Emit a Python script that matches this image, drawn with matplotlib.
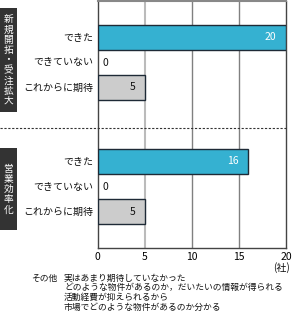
import matplotlib.pyplot as plt
from matplotlib.patches import Rectangle

plt.rcParams['font.family'] = ['Noto Sans CJK JP', 'DejaVu Sans']

groups = ['新規開拓・受注拡大', '営業効率化']
categories = ['できた', 'できていない', 'これからに期待']
values_g1 = [20, 0, 5]
values_g2 = [16, 0, 5]
x_ticks = [0, 5, 10, 15, 20]
unit = '(社)'
other_label = 'その他'
other_lines = ['実はあまり期待していなかった',
               'どのような物件があるのか，だいたいの情報が得られる',
               '活動経費が抑えられるから',
               '市場でどのような物件があるのか分かる']

bar_colors = ['#35b1d1', '#35b1d1', '#cccccc']

W, H = 296, 315
fig = plt.figure(figsize=(W / 100, H / 100), dpi=100)
ax = fig.add_axes([97.5 / W, 1 - 248 / H, (286 - 97.5) / W, (248 - 1) / H])

offsets = [0, 4.96]
for off, vals in zip(offsets, [values_g1, values_g2]):
    for i, (cat, v) in enumerate(zip(categories, vals)):
        y = off + i
        if v > 0:
            ax.barh(y, v, height=1.0, color=bar_colors[i],
                    edgecolor='#1e2a36', linewidth=1.0, zorder=3)
            tc = 'white' if i == 0 else '#111111'
            ax.text(v - 1.0, y, str(v), ha='right', va='center',
                    fontsize=7.5, color=tc, zorder=4)
        else:
            ax.text(0.5, y, str(v), ha='left', va='center',
                    fontsize=7.5, color='#111111', zorder=4)
        ax.text(-0.45, y, cat, ha='right', va='center', fontsize=7.2,
                color='#111111')

ax.set_xlim(0, 20)
ax.set_ylim(8.42, -1.46)
ax.set_yticks([])
ax.set_xticks(x_ticks)
ax.set_xticklabels([str(t) for t in x_ticks], fontsize=7.5)
ax.tick_params(axis='x', length=0, pad=3)

# grid lines
ax.axvline(5, color='#bbbbbb', linewidth=1.5, zorder=1)
for gx in [10, 15]:
    ax.axvline(gx, color='#808080', linewidth=1.0, zorder=1)

for s in ['left', 'bottom', 'right']:
    ax.spines[s].set_color('#444444')
    ax.spines[s].set_linewidth(1.0)
ax.spines['top'].set_color('#888888')
ax.spines['top'].set_linewidth(1.5)

# dashed separator across the figure
fig.add_artist(plt.Line2D([0, 286 / W], [1 - 128 / H, 1 - 128 / H],
                          color='#333333', linewidth=0.8,
                          linestyle=(0, (2, 1.5))))

# group boxes with vertical text, one character per step
boxes = [(8, 112), (148, 230)]
pitch = 10.2
for g, (y0, y1) in zip(groups, boxes):
    fig.add_artist(Rectangle((0, 1 - y1 / H), 17 / W, (y1 - y0) / H,
                             facecolor='#333333', edgecolor='none'))
    mid = (y0 + y1) / 2
    n = len(g)
    for k, ch in enumerate(g):
        cy = mid + (k - (n - 1) / 2) * pitch
        fig.text(8.5 / W, 1 - cy / H, ch, ha='center', va='center',
                 color='white', fontsize=7.0)

fig.text(290 / W, 1 - 268 / H, unit, ha='right', va='center', fontsize=7.2,
         color='#111111')
fig.text(31 / W, 1 - 278 / H, other_label, ha='left', va='center',
         fontsize=6.3, color='#111111')
for k, line in enumerate(other_lines):
    fig.text(64 / W, 1 - (278 + 9.7 * k) / H, line, ha='left', va='center',
             fontsize=6.3, color='#111111')

fig.savefig('out.png', dpi=100)
